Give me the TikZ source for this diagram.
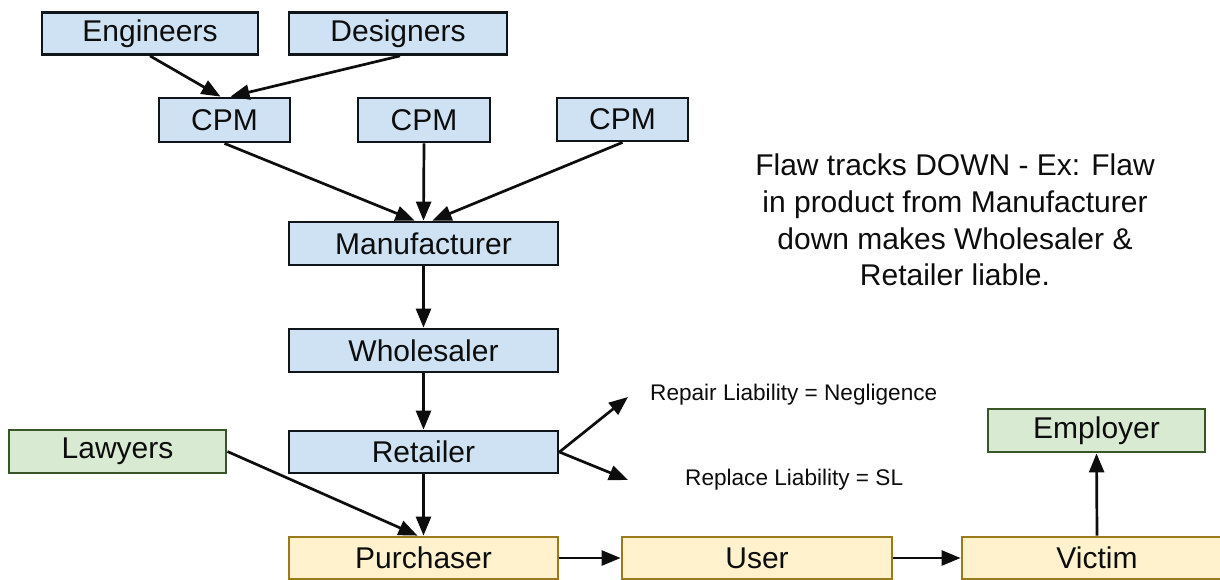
\documentclass[tikz,border=0pt]{standalone}
\usepackage{fontspec}
\setmainfont{Liberation Sans}
\usetikzlibrary{arrows.meta}

\definecolor{bluefill}{HTML}{CFE2F3}
\definecolor{blueline}{HTML}{10151A}
\definecolor{greenfill}{HTML}{D9EAD3}
\definecolor{greenline}{HTML}{3A5628}
\definecolor{yellowfill}{HTML}{FFF2CC}
\definecolor{yellowline}{HTML}{9A7A1C}
\definecolor{ink}{HTML}{0D0D0D}

\tikzset{
  box/.style={draw, line width=2.8pt, minimum height=42pt, inner sep=0pt,
              font=\fontsize{30}{34}\selectfont, text=ink},
  bluebox/.style={box, fill=bluefill, draw=blueline},
  greenbox/.style={box, fill=greenfill, draw=greenline},
  yellowbox/.style={box, fill=yellowfill, draw=yellowline},
  flow/.style={draw=ink, line width=2.7pt, -{Triangle[length=19pt,width=15pt]}},
  note/.style={text=ink, inner sep=0pt},
}

\begin{document}
\begin{tikzpicture}[x=1pt, y=-1pt]
  \useasboundingbox (0,0) rectangle (1220,579);
  \clip (0,0) rectangle (1220,579);
  \fill[white] (0,0) rectangle (1220,579);

  % supply chain
  \node[bluebox, minimum width=216pt] (eng)  at (150,33.5)  {Engineers};
  \node[bluebox, minimum width=218pt] (des)  at (398,33.5)  {Designers};
  \node[bluebox, minimum width=131pt, minimum height=44pt] (cpmA) at (224.5,120) {CPM};
  \node[bluebox, minimum width=132pt, minimum height=44pt] (cpmB) at (424,120)   {CPM};
  \node[bluebox, minimum width=131pt, minimum height=43pt] (cpmC) at (622.5,119.5) {CPM};
  \node[bluebox, minimum width=269pt, minimum height=43pt] (manu)  at (423.5,243.5) {Manufacturer};
  \node[bluebox, minimum width=269pt, minimum height=43pt] (whole) at (423.5,350.5) {Wholesaler};
  \node[bluebox, minimum width=269pt] (retail) at (423.5,452) {Retailer};

  % parties
  \node[greenbox, minimum width=217pt, minimum height=43pt] (law) at (117.5,451.5) {Lawyers};
  \node[greenbox, minimum width=217pt, minimum height=43pt] (emp) at (1096.5,430.5) {Employer};
  \node[yellowbox, minimum width=269pt] (purch)  at (423.5,558) {Purchaser};
  \node[yellowbox, minimum width=270pt] (user)   at (757,558)   {User};
  \node[yellowbox, minimum width=270pt] (victim) at (1097,558)  {Victim};

  % liability notes
  \node[note, anchor=west, font=\fontsize{22.6}{26}\selectfont] (repair)  at (650,395) {Repair Liability = Negligence};
  \node[note, anchor=west, font=\fontsize{22.6}{26}\selectfont] (replace) at (685,480) {Replace Liability = SL};
  \coordinate (repairTip)  at (628,397);
  \coordinate (replaceTip) at (628,480);

  \node[note, align=center, font=\fontsize{30}{36.7}\selectfont] (flaw) at (955,220)
    {Flaw tracks DOWN - Ex: Flaw\\in product from Manufacturer\\down makes Wholesaler \&\\Retailer liable.};

  % connectors
  \draw[flow] (eng.south) -- ([xshift=-4pt]cpmA.north);
  \draw[flow] ([xshift=2pt]des.south) -- ([xshift=6pt]cpmA.north);
  \draw[flow] (cpmA.south) -- ([xshift=-9pt]manu.north);
  \draw[flow] (cpmB.south) -- (manu.north);
  \draw[flow] (cpmC.south) -- ([xshift=9pt]manu.north);
  \draw[flow] (manu) -- (whole);
  \draw[flow] (whole) -- (retail);
  \draw[flow] (retail) -- (purch);
  \draw[flow] (law.east) -- ([xshift=-6pt]purch.north);
  \draw[flow] (retail.east) -- (repairTip);
  \draw[flow] (retail.east) -- (replaceTip);
  \draw[flow] (purch) -- (user);
  \draw[flow] (user) -- (victim);
  \draw[flow] (victim.north) -- (emp.south);
\end{tikzpicture}
\end{document}
